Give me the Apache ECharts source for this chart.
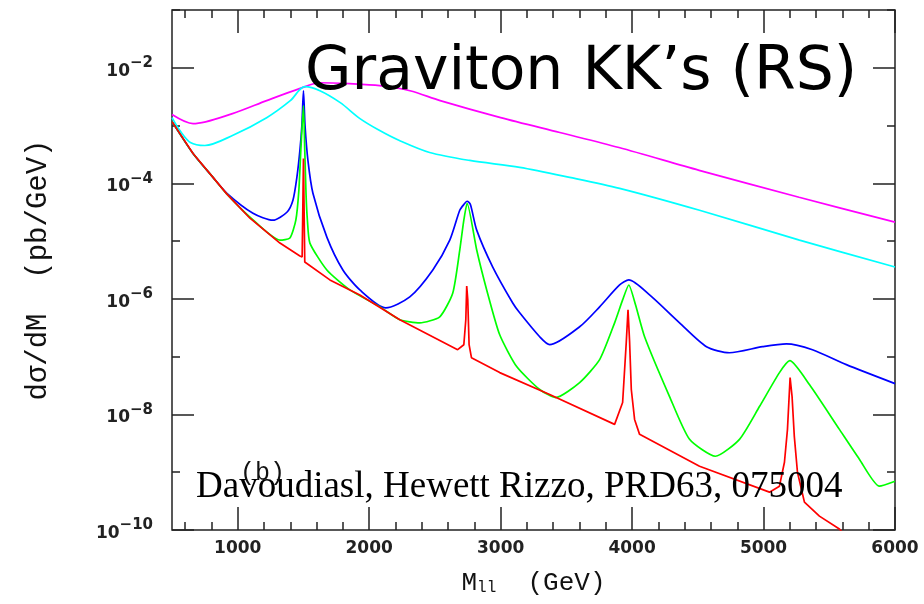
<!DOCTYPE html>
<html><head><meta charset="utf-8">
<script src="https://cdn.jsdelivr.net/npm/echarts@6/dist/echarts.min.js"></script>
<style>html,body{margin:0;padding:0;background:#fff}#c{width:924px;height:604px}</style>
</head><body><div id="c"></div>
<script>
// Tick positions (GeV) and decade exponents
const xMajorTicks = [1000, 2000, 3000, 4000, 5000, 6000];
const xMinorTicks = [600, 800, 1200, 1400, 1600, 1800, 2200, 2400, 2600, 2800, 3200, 3400, 3600, 3800, 4200, 4400, 4600, 4800, 5200, 5400, 5600, 5800];
const yMajorExp = [-10, -8, -6, -4, -2];
const yMinorExp = [-9, -7, -5, -3, -1];

// Series values [M_ll (GeV), dsigma/dM (pb/GeV)]
const magentaCurve = [[500,1.55e-3],[660,1.08e-3],[960,1.61e-3],[1220,2.70e-3],[1470,4.35e-3],[1625,5.51e-3],[1850,5.30e-3],[2080,4.90e-3],[2310,4.01e-3],[2540,2.70e-3],[3000,1.37e-3],[3450,7.57e-4],[3900,4.17e-4],[4510,1.68e-4],[5270,5.74e-5],[6000,2.13e-5]];
const cyanCurve = [[500,1.37e-3],[560,8.2e-4],[640,5.09e-4],[750,4.52e-4],[960,6.73e-4],[1220,1.37e-3],[1400,2.70e-3],[1510,4.70e-3],[1625,4.01e-3],[1780,2.49e-3],[1930,1.32e-3],[2080,8.20e-4],[2230,5.51e-4],[2460,3.42e-4],[2765,2.49e-4],[3145,1.89e-4],[3525,1.27e-4],[3905,8.20e-5],[4513,3.42e-5],[5273,1.04e-5],[6000,3.56e-6]];
const blueCurve = [[500,1.17e-3],[660,3.29e-4],[812,1.27e-4],[918,6.73e-5],[1116,3.04e-5],[1268,2.30e-5],[1374,3.16e-5],[1420,5.09e-5],[1450,1.27e-4],[1473,3.71e-4],[1488,1.0e-3],[1500,4.0e-3],[1512,1.0e-3],[1534,2.49e-4],[1572,6.73e-5],[1678,1.17e-5],[1800,3.16e-6],[1929,1.43e-6],[2126,7.0e-7],[2309,1.08e-6],[2484,3.16e-6],[2613,1.04e-5],[2689,3.42e-5],[2720,4.3e-5],[2745,4.9e-5],[2770,4.3e-5],[2818,1.55e-5],[2940,3.56e-6],[3092,8.5e-7],[3145,5.74e-7],[3297,2.21e-7],[3373,1.61e-7],[3601,3.29e-7],[3753,7.28e-7],[3905,1.74e-6],[3975,2.13e-6],[4133,1.17e-6],[4361,3.85e-7],[4566,1.49e-7],[4741,1.17e-7],[4992,1.49e-7],[5174,1.67e-7],[5372,1.32e-7],[5630,7.28e-8],[6000,3.42e-8]];
const greenCurve = [[500,1.17e-3],[660,3.29e-4],[812,1.27e-4],[918,6.5e-5],[1093,2.6e-5],[1321,1.04e-5],[1397,1.13e-5],[1442,2.3e-5],[1465,7.57e-5],[1480,3.71e-4],[1500,2.21e-3],[1510,3.71e-4],[1520,6.2e-5],[1530,2.3e-5],[1549,9.25e-6],[1678,3.16e-6],[1853,1.43e-6],[2081,7.28e-7],[2233,4.35e-7],[2385,3.85e-7],[2537,4.9e-7],[2636,1.27e-6],[2689,7.0e-6],[2720,2.3e-5],[2745,4.52e-5],[2818,7.0e-6],[2894,1.43e-6],[2993,2.39e-7],[3122,6.73e-8],[3297,2.70e-8],[3418,1.96e-8],[3601,3.56e-8],[3753,8.88e-8],[3867,3.85e-7],[3928,9.6e-7],[3975,1.74e-6],[4026,7.9e-7],[4095,2.21e-7],[4285,2.04e-8],[4437,3.71e-9],[4634,1.89e-9],[4817,3.71e-9],[4969,1.37e-8],[5121,5.3e-8],[5200,8.53e-8],[5349,3.29e-8],[5577,5.51e-9],[5729,1.68e-9],[5881,5.74e-10],[6000,7.0e-10]];
const redCurve = [[500,1.17e-3],[660,3.29e-4],[812,1.27e-4],[918,6.5e-5],[1093,2.49e-5],[1321,9.25e-6],[1473,5.51e-6],[1490,5.3e-6],[1496,5.1e-5],[1500,2.70e-4],[1504,5.1e-5],[1510,4.35e-6],[1701,2.13e-6],[1929,1.17e-6],[2233,4.35e-7],[2673,1.32e-7],[2720,1.61e-7],[2735,4.35e-7],[2742,1.67e-6],[2750,9.6e-7],[2760,1.61e-7],[2778,9.6e-8],[2993,5.3e-8],[3373,2.21e-8],[3867,6.73e-9],[3928,1.61e-8],[3956,1.82e-7],[3969,6.46e-7],[3981,1.82e-7],[3994,2.70e-8],[4019,8.2e-9],[4057,4.52e-9],[4513,1.27e-9],[5045,4.52e-10],[5121,5.74e-10],[5159,1.49e-9],[5182,5.51e-9],[5202,4.35e-8],[5217,2.04e-8],[5234,4.17e-9],[5258,1.0e-9],[5311,3.04e-10],[5425,1.74e-10],[5577,1.04e-10],[5700,5e-11]];

const axisColor = '#222';
const tickFont = 'DejaVu Sans';

function helperX(pos, len, vals, labels) {
  return {
    type: 'value', position: pos, min: 500, max: 6000,
    axisLine: { show: false, onZero: false },
    splitLine: { show: false },
    axisTick: { show: true, inside: true, length: len, customValues: vals, lineStyle: { color: axisColor, width: 1.5 } },
    axisLabel: labels ? { show: true, customValues: vals, margin: 10, formatter: v => String(v),
      fontFamily: tickFont, fontWeight: 'bold', fontSize: 17, color: '#222' } : { show: false }
  };
}
function helperY(pos, len, vals, labels) {
  return {
    type: 'value', position: pos, min: -10, max: -1,
    axisLine: { show: false, onZero: false },
    splitLine: { show: false },
    axisTick: { show: true, inside: true, length: len, customValues: vals, lineStyle: { color: axisColor, width: 1.5 } },
    axisLabel: labels ? {
      show: true, customValues: vals, margin: 19,
      formatter: v => '{b|10}{s|\u2212' + (-v) + '}',
      rich: {
        b: { fontFamily: tickFont, fontWeight: 'bold', fontSize: 17, color: '#222', lineHeight: 24, verticalAlign: 'bottom' },
        s: { fontFamily: tickFont, fontWeight: 'bold', fontSize: 15, color: '#222', lineHeight: 15, verticalAlign: 'top' }
      }
    } : { show: false }
  };
}

const xMain = helperX('bottom', 23, xMajorTicks, true);
xMain.name = '{m|M}{s|ll}{m|  (GeV)}';
xMain.nameLocation = 'middle';
xMain.nameGap = 40;
xMain.nameTextStyle = {
  rich: {
    m: { fontFamily: 'Liberation Mono', fontSize: 26, color: '#111', lineHeight: 26, verticalAlign: 'top' },
    s: { fontFamily: 'Liberation Mono', fontSize: 16, color: '#111', lineHeight: 16, padding: [16, 0, 0, 0], verticalAlign: 'bottom' }
  }
};

const styles = [
  ['magenta', magentaCurve, '#ff00ff', 0.3],
  ['cyan', cyanCurve, '#00ffff', 0.3],
  ['blue', blueCurve, '#0000ff', 0.25],
  ['green', greenCurve, '#00ff00', 0.2],
  ['red', redCurve, '#ff0000', false]
];

const option = {
  animation: false,
  backgroundColor: '#fff',
  grid: { left: 172, top: 10, right: 29, bottom: 74, show: true, borderColor: axisColor, borderWidth: 1.5, backgroundColor: 'transparent' },
  xAxis: [
    xMain,
    helperX('bottom', 8, xMinorTicks, false),
    helperX('top', 23, xMajorTicks, false),
    helperX('top', 8, xMinorTicks, false)
  ],
  yAxis: [
    {
      type: 'log', logBase: 10, min: 1e-10, max: 1e-1, position: 'left',
      axisLine: { show: false, onZero: false }, axisTick: { show: false }, axisLabel: { show: false }, splitLine: { show: false },
      name: 'd\u03c3/dM  (pb/GeV)', nameLocation: 'middle', nameGap: 119,
      nameTextStyle: { fontFamily: 'Liberation Mono', fontSize: 29, color: '#111' }
    },
    helperY('left', 22, yMajorExp, true),
    helperY('left', 8, yMinorExp, false),
    helperY('right', 22, yMajorExp, false),
    helperY('right', 8, yMinorExp, false)
  ],
  series: styles.map(([n, d, c, sm]) => ({
    name: n, type: 'line', xAxisIndex: 0, yAxisIndex: 0, data: d,
    showSymbol: false, symbol: 'none', clip: true, smooth: sm,
    lineStyle: { color: c, width: 1.7 }, itemStyle: { color: c }
  })),
  graphic: [
    { type: 'text', left: 305, top: 43, z: 100,
      style: { text: 'Graviton KK\u2019s (RS)', font: '60px "DejaVu Sans"', fill: '#000' } },
    { type: 'text', left: 196, top: 469, z: 100,
      style: { text: 'Davoudiasl, Hewett Rizzo, PRD63, 075004', font: '37px "Liberation Serif"', fill: '#000' } },
    { type: 'text', left: 240, top: 461, z: 100,
      style: { text: '(b)', font: '25px "Liberation Mono"', fill: '#111' } }
  ]
};
const chart = echarts.init(document.getElementById('c'), null, { renderer: 'canvas' });
chart.setOption(option);
</script>
</body></html>
